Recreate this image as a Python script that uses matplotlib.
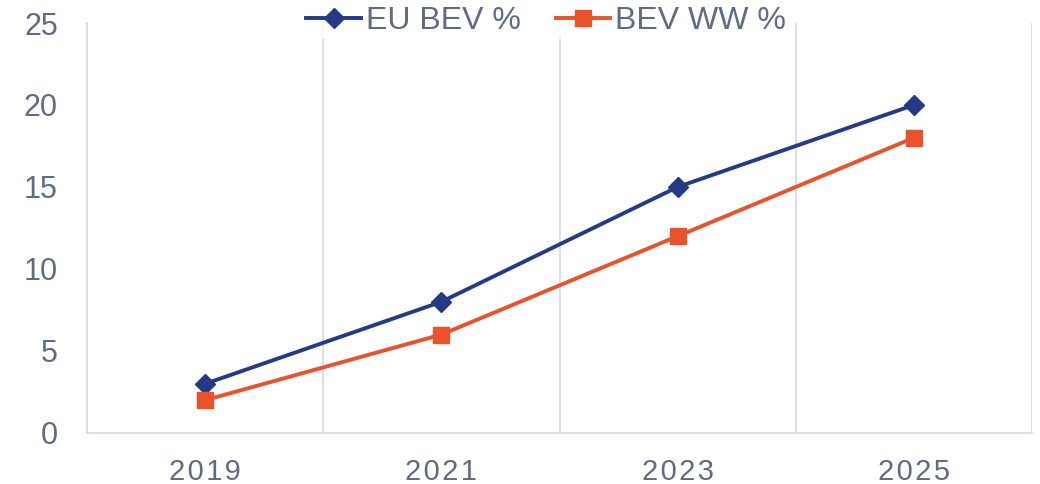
import matplotlib.pyplot as plt
import numpy as np

plt.rcParams['font.family'] = ['Liberation Sans', 'DejaVu Sans']

years = ['2019', '2021', '2023', '2025']
eu_bev = [3, 8, 15, 20]
bev_ww = [2, 6, 12, 18]

navy = '#253a87'
orange = '#e9522a'
text_col = '#5f6b86'
grid_col = '#d9dce4'

fig = plt.figure(figsize=(10.4, 4.84), dpi=100)
ax = fig.add_axes([87 / 1040, 1 - 433 / 484, (1032 - 87) / 1040, (433 - 23) / 484])

x = np.arange(len(years))
ax.plot(x, eu_bev, color=navy, lw=2.8, marker='D', markersize=10.5, label='EU BEV %')
ax.plot(x, bev_ww, color=orange, lw=2.8, marker='s', markersize=11.5, label='BEV WW %')

ax.set_xlim(-0.5, len(years) - 0.5)
ax.set_ylim(0, 25)
ax.set_yticks(range(0, 26, 5))
ax.set_xticks(x)
ax.set_xticklabels(['\u200a'.join(y) for y in years], fontsize=21)

# vertical separators between categories
ax.set_xticks(np.arange(0.5, len(years), 1), minor=True)
ax.grid(axis='x', which='minor', color=grid_col, lw=1.3)
ax.tick_params(axis='x', which='both', length=0)
ax.tick_params(axis='y', length=0, pad=21, labelsize=22)
ax.tick_params(axis='x', pad=18)
ax.tick_params(labelcolor=text_col)

for s in ['top', 'right']:
    ax.spines[s].set_visible(False)
for s in ['left', 'bottom']:
    ax.spines[s].set_color(grid_col)
    ax.spines[s].set_linewidth(1.3)

leg = fig.legend(loc='center', bbox_to_anchor=(546 / 1040, 1 - 21 / 484), ncol=2,
                 frameon=True, facecolor='white', edgecolor='none', fontsize=23,
                 handlelength=1.7, handletextpad=0.15, columnspacing=1.1,
                 borderpad=0.1, borderaxespad=0)
for t in leg.get_texts():
    t.set_color(text_col)

fig.savefig('out.png', dpi=100)
